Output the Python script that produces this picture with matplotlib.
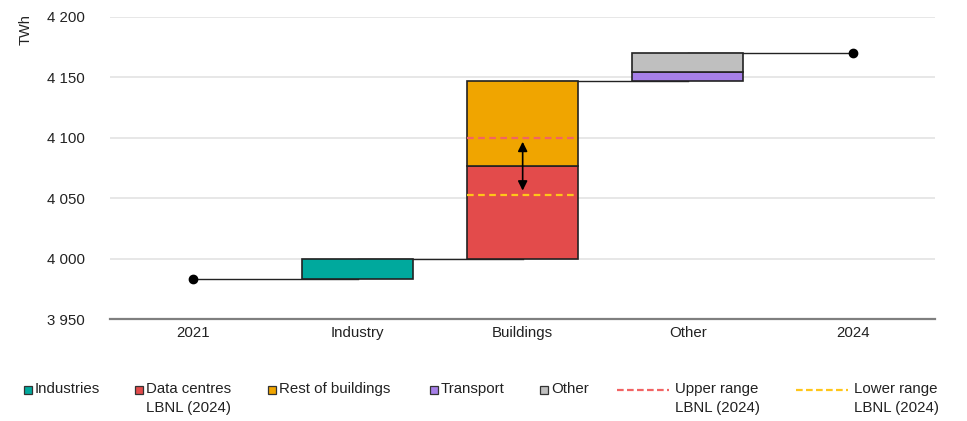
import matplotlib.pyplot as plt
from matplotlib.lines import Line2D
from matplotlib.patches import Rectangle
from matplotlib.ticker import FuncFormatter

# Data (TWh)
categories = ["2021", "Industry", "Buildings", "Other", "2024"]
start_2021 = 3983
end_2024 = 4170
industries = 17
data_centres = 77
rest_of_buildings = 70
transport = 7
other = 16
upper_range = 4100
lower_range = 4053

c_ind = "#00A99D"
c_dc = "#E34B4B"
c_rest = "#F0A500"
c_trans = "#A67FE8"
c_other = "#BFBFBF"
c_upper = "#F26464"
c_lower = "#FFC61A"

plt.rcParams['font.family'] = ['Liberation Sans', 'DejaVu Sans']

W, H = 967, 421
fig = plt.figure(figsize=(W / 100, H / 100), dpi=100)
ax = fig.add_axes([0.114, 0.242, 0.853, 0.718])

x = list(range(len(categories)))
w = 0.67
edge = dict(edgecolor="#222222", linewidth=1.2, zorder=3)

# Industry
ax.bar(x[1], industries, w, bottom=start_2021, color=c_ind, **edge)
# Buildings
b0 = start_2021 + industries
ax.bar(x[2], data_centres, w, bottom=b0, color=c_dc, **edge)
ax.bar(x[2], rest_of_buildings, w, bottom=b0 + data_centres, color=c_rest, **edge)
# Other
o0 = b0 + data_centres + rest_of_buildings
ax.bar(x[3], transport, w, bottom=o0, color=c_trans, **edge)
ax.bar(x[3], other, w, bottom=o0 + transport, color=c_other, **edge)

# connector lines
levels = [start_2021, b0, o0, end_2024]
for i, lv in enumerate(levels):
    ax.plot([x[i], x[i + 1]], [lv, lv], color="#222222", lw=1.0, zorder=2)

ax.plot([x[0], x[4]], [start_2021, end_2024], "o", color="black", ms=6, zorder=5)

# LBNL ranges
ax.hlines(upper_range, x[2] - w / 2, x[2] + w / 2, colors=c_upper, linestyles=(0, (3, 2)), lw=1.6, zorder=4)
ax.hlines(lower_range, x[2] - w / 2, x[2] + w / 2, colors=c_lower, linestyles=(0, (3, 2)), lw=1.6, zorder=4)
ax.annotate("", xy=(x[2], upper_range - 1), xytext=(x[2], lower_range + 1),
            arrowprops=dict(arrowstyle="<|-|>", color="black", lw=1.2, mutation_scale=14), zorder=6)

ax.set_xlim(-0.5, 4.5)
ax.set_ylim(3950, 4200)
ax.set_yticks(range(3950, 4201, 50))
ax.yaxis.set_major_formatter(FuncFormatter(lambda v, p: f"{int(v):,}".replace(",", " ")))
ax.set_xticks(x)
ax.set_xticklabels(categories)
ax.tick_params(axis="both", length=0, labelsize=10.8, colors="#222222")
ax.tick_params(axis="y", pad=18)
ax.tick_params(axis="x", pad=5)
ax.grid(axis="y", color="#E3E3E3", lw=1.2, zorder=0)
ax.set_axisbelow(True)
for s in ["top", "right", "left"]:
    ax.spines[s].set_visible(False)
ax.spines["bottom"].set_color("#7F7F7F")
ax.spines["bottom"].set_linewidth(1.6)

fig.text(0.027, 0.93, "TWh", rotation=90, ha="center", va="center", fontsize=10.5, color="#222222")

# legend drawn by hand so that two-line labels hang from the first line
legend_items = [
    ("patch", c_ind, "Industries", 28),
    ("patch", c_dc, "Data centres\nLBNL (2024)", 139),
    ("patch", c_rest, "Rest of buildings", 272),
    ("patch", c_trans, "Transport", 434),
    ("patch", c_other, "Other", 544),
    ("line", c_upper, "Upper range\nLBNL (2024)", 617),
    ("line", c_lower, "Lower range\nLBNL (2024)", 796),
]
row_y = 390
for kind, col, label, px in legend_items:
    yf = 1 - row_y / H
    if kind == "patch":
        s = 8
        fig.add_artist(Rectangle((px / W - s / 2 / W, yf - s / 2 / H), s / W, s / H,
                                 facecolor=col, edgecolor="#333333", lw=0.9, transform=fig.transFigure))
        tx = px + 7
    else:
        fig.add_artist(Line2D([px / W, (px + 52) / W], [yf, yf], color=col, lw=1.6,
                              ls=(0, (3, 1.5)), transform=fig.transFigure))
        tx = px + 58
    fig.text(tx / W, yf + 8 / H, label, ha="left", va="top", fontsize=10.8,
             color="#222222", linespacing=1.45)

fig.savefig("out.png", dpi=100)
